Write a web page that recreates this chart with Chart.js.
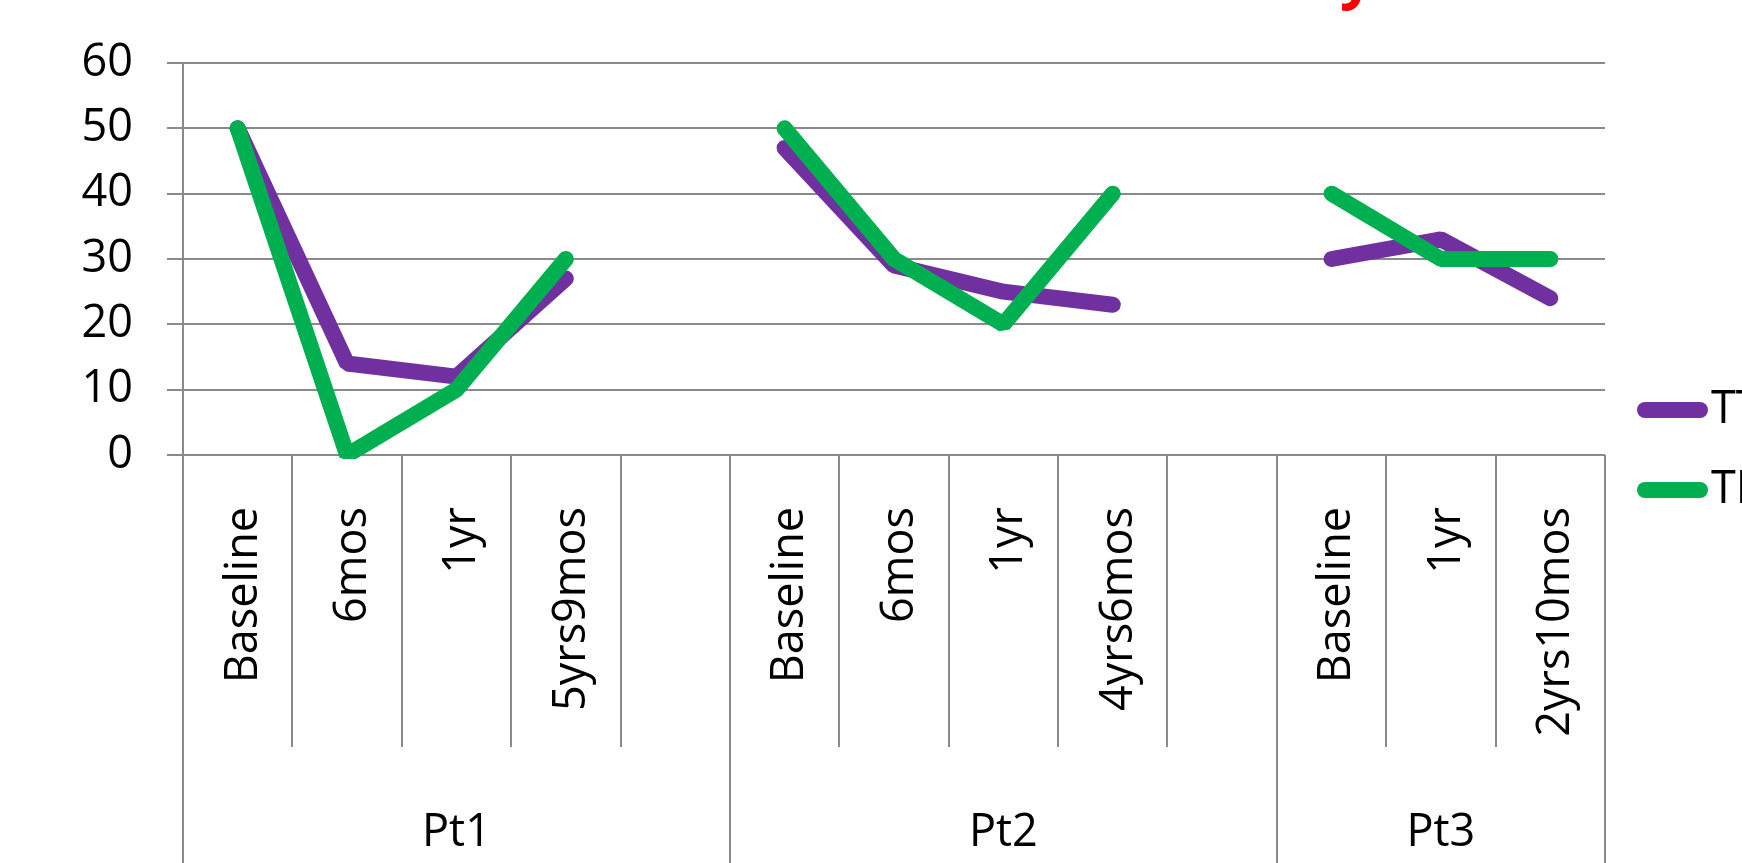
<!DOCTYPE html>
<html>
<head>
<meta charset="utf-8">
<script src="https://cdn.jsdelivr.net/npm/chart.js@4.4.1/dist/chart.umd.min.js"></script>
<style>
html, body { margin: 0; padding: 0; background: #fff; overflow: hidden; }
</style>
</head>
<body>
<canvas id="grafico" width="1742" height="863"></canvas>
<script>
// datos
const grupos = ['Pt1', 'Pt2', 'Pt3'];
const tamGrupo = [5, 5, 3];
const momentos = ['Baseline', '6mos', '1yr', '5yrs9mos', '',
                  'Baseline', '6mos', '1yr', '4yrs6mos', '',
                  'Baseline', '1yr', '2yrs10mos'];
const serieTT = [50, 14, 12, 27, null, 47, 29, 25, 23, null, 30, 33, 24];
const serieTI = [50, 0, 10, 30, null, 50, 30, 20, 40, null, 40, 30, 30];
const nombres = ['TT', 'TI'];
const ticksY = [0, 10, 20, 30, 40, 50, 60];

const fuente = "'Open Sans', sans-serif";
const gris = '#8a8a8a';
Chart.defaults.font.family = fuente;
Chart.defaults.font.size = 45;
Chart.defaults.color = '#000';

// separadores de categorías, etiquetas de grupo, leyenda y resto del título
const ejeAgrupado = {
    id: 'ejeAgrupado',
    afterDraw(chart) {
        const { ctx, chartArea, scales: { x } } = chart;
        const base = chartArea.bottom;
        const bordesGrupo = [0];
        tamGrupo.forEach(n => bordesGrupo.push(bordesGrupo[bordesGrupo.length - 1] + n));

        ctx.save();
        ctx.strokeStyle = gris;
        ctx.lineWidth = 2;
        for (let i = 0; i <= momentos.length; i++) {
            const px = Math.round(x.getPixelForValue(i - 0.5));
            const fin = bordesGrupo.includes(i) ? chart.height : base + 292;
            ctx.beginPath();
            ctx.moveTo(px, base);
            ctx.lineTo(px, fin);
            ctx.stroke();
        }

        ctx.fillStyle = '#000';
        ctx.font = `45px ${fuente}`;
        ctx.textAlign = 'center';
        ctx.textBaseline = 'middle';
        grupos.forEach((g, k) => {
            const a = x.getPixelForValue(bordesGrupo[k] - 0.5);
            const b = x.getPixelForValue(bordesGrupo[k + 1] - 0.5);
            ctx.fillText(g, (a + b) / 2, 833);
        });

        // leyenda
        chart.data.datasets.forEach((ds, i) => {
            const y = 410 + i * 80;
            ctx.strokeStyle = ds.borderColor;
            ctx.lineWidth = 16;
            ctx.lineCap = 'round';
            ctx.beginPath();
            ctx.moveTo(1645, y);
            ctx.lineTo(1700, y);
            ctx.stroke();
            ctx.textAlign = 'left';
            ctx.fillText(ds.label, 1711, y);
        });

        // cola de la "y" del título, que queda cortado arriba
        ctx.fillStyle = '#ff0000';
        ctx.font = `bold 60px ${fuente}`;
        ctx.textBaseline = 'alphabetic';
        ctx.fillText('y', 1340, -4);
        ctx.restore();
    }
};

const lineaBase = {
    borderWidth: 16,
    pointRadius: 0,
    borderCapStyle: 'round',
    borderJoinStyle: 'bevel',
    tension: 0,
    spanGaps: false,
    clip: { left: 12, top: 12, right: 12, bottom: 4 }
};

const grafico = new Chart(document.getElementById('grafico'), {
    type: 'line',
    data: {
        labels: momentos,
        datasets: [
            { ...lineaBase, label: nombres[0], data: serieTT, borderColor: '#7030a0', backgroundColor: '#7030a0', order: 2 },
            { ...lineaBase, label: nombres[1], data: serieTI, borderColor: '#00b050', backgroundColor: '#00b050', order: 1 }
        ]
    },
    options: {
        responsive: false,
        animation: false,
        events: [],
        layout: { padding: { top: 63, right: 137, left: 0, bottom: 0 } },
        plugins: {
            legend: { display: false },
            tooltip: { enabled: false }
        },
        scales: {
            x: {
                offset: true,
                grid: { display: false },
                border: { display: false },
                ticks: { autoSkip: false, minRotation: 90, maxRotation: 90, padding: 44, labelOffset: 6 },
                afterFit: (s) => { s.height = 408; }
            },
            y: {
                min: ticksY[0],
                max: ticksY[ticksY.length - 1],
                ticks: { stepSize: 10, padding: 34 },
                grid: { color: gris, lineWidth: 2, tickLength: 16 },
                border: { color: gris, width: 2 },
                afterFit: (s) => { s.width = 183; }
            }
        }
    },
    plugins: [ejeAgrupado]
});
</script>
</body>
</html>
